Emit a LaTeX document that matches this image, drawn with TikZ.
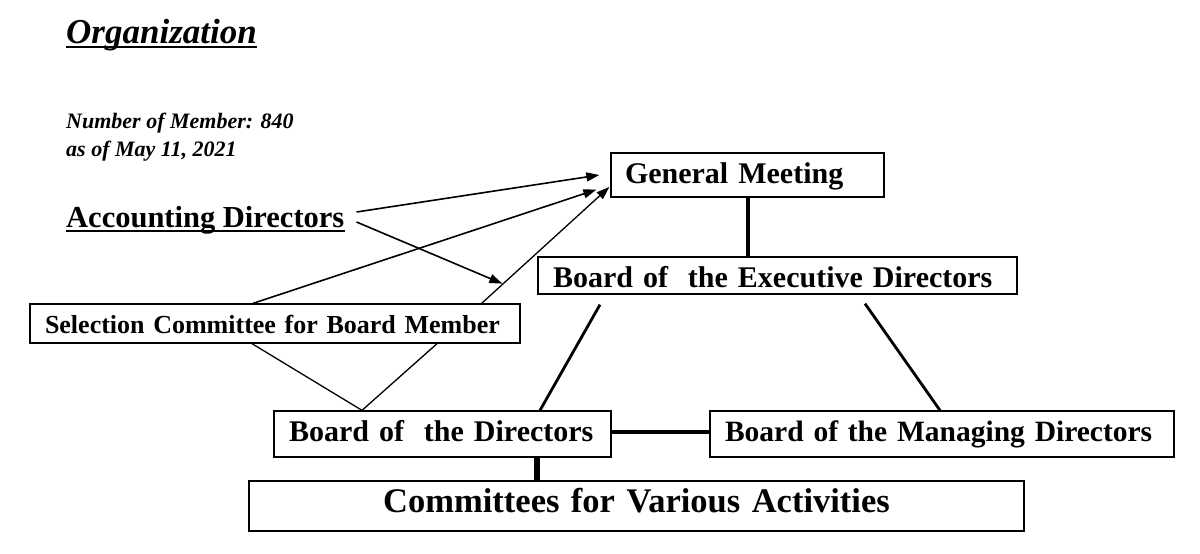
\documentclass[tikz,border=0pt]{standalone}
\usepackage{fontspec}
\setmainfont{Liberation Serif}
\usetikzlibrary{arrows.meta,calc}
\begin{document}
\begin{tikzpicture}[x=1pt,y=-1pt,
  box/.style={draw=black, line width=1.3pt, inner ysep=0pt, inner xsep=15pt,
    font=\bfseries\fontsize{30}{36}\selectfont, align=left, text depth=6pt},
  label/.style={inner sep=0pt, anchor=base west},
  arr/.style={line width=1.6pt, -{Triangle[length=13pt,width=9pt]}},
  thinl/.style={line width=1.3pt},
  midl/.style={line width=2.8pt},
  thickl/.style={line width=4pt},
  uline/.style={line width=2pt}]
\useasboundingbox (0,0) rectangle (1200,554);
% texts
\node[label, font=\bfseries\itshape\fontsize{35}{40}\selectfont] (title) at (66,43) {Organization};
\draw[uline] ([yshift=-4pt]title.base west) -- ([yshift=-4pt]title.base east);
\node[label, font=\bfseries\itshape\fontsize{22}{26}\selectfont] (num) at (66,128) {Number of Member: 840};
\node[label, font=\bfseries\itshape\fontsize{22}{26}\selectfont] (asof) at (66,156) {as of May 11, 2021};
\node[label, font=\bfseries\fontsize{30.5}{36}\selectfont] (acc) at (66,227) {Accounting Directors};
\draw[uline] ([yshift=-3.5pt]acc.base west) -- ([yshift=-3.5pt]acc.base east);
% boxes
\node[box, text height=22pt, minimum height=44pt, inner xsep=14pt, text width=245pt] (gm) at (747.5,175) {\mbox{General Meeting}};
\node[box, text height=29pt, minimum height=37pt, text width=449pt] (bed) at (777.5,275.5) {\mbox{Board of\ \ the Executive Directors}};
\node[box, font=\bfseries\fontsize{26}{30}\selectfont, text depth=5pt, text height=24pt, minimum height=39pt, inner xsep=15pt, text width=460pt] (sel) at (275,323.5) {\mbox{Selection Committee for Board Member}};
\node[box, text height=21.5pt, minimum height=46pt, text width=307pt] (bd) at (442.5,434) {\mbox{Board of\ \ the Directors}};
\node[box, font=\bfseries\fontsize{29.5}{36}\selectfont, text height=20pt, minimum height=46pt, text width=434pt] (bmd) at (942,434) {\mbox{Board of the Managing Directors}};
\node[box, font=\bfseries\fontsize{34.5}{40}\selectfont, align=center, text depth=7pt, text height=20.4pt, minimum height=50pt, inner xsep=10pt, text width=755pt] (com) at (636.5,506) {\mbox{Committees for Various Activities}};
% connectors
\draw[arr] ($(acc.base east)+(12,-15)$) -- ($(gm.west)+(-11,0)$);
\draw[arr] ($(acc.base east)+(12,-5)$) -- ($(bed.south west)+(-35,-11)$);
\draw[arr] ($(sel.north)+(-22,0)$) -- ($(gm.south west)+(-14,-8)$);
\draw[arr, line width=1.3pt] ($(sel.north east)+(-39,0)$) -- ($(gm.west)+(-1,12)$);
\draw[thinl] ($(sel.south)+(-23,0)$) -- ($(bd.north)+(-80.5,0)$) -- ($(sel.south)+(162,0)$);
\draw[thickl] (gm.south) -- (gm.south |- bed.north);
\draw[midl] ($(bed.south)+(-177.5,10)$) -- ($(bd.north)+(97.5,0)$);
\draw[midl] ($(bed.south)+(87.5,9)$) -- ($(bmd.north)+(-2,0)$);
\draw[thickl] ([yshift=2pt]bd.east) -- ([yshift=2pt]bmd.west);
\coordinate (bdc) at ($(bd.south)+(94.5,0)$);
\draw[line width=6pt] (bdc) -- (bdc |- com.north);
\end{tikzpicture}
\end{document}
